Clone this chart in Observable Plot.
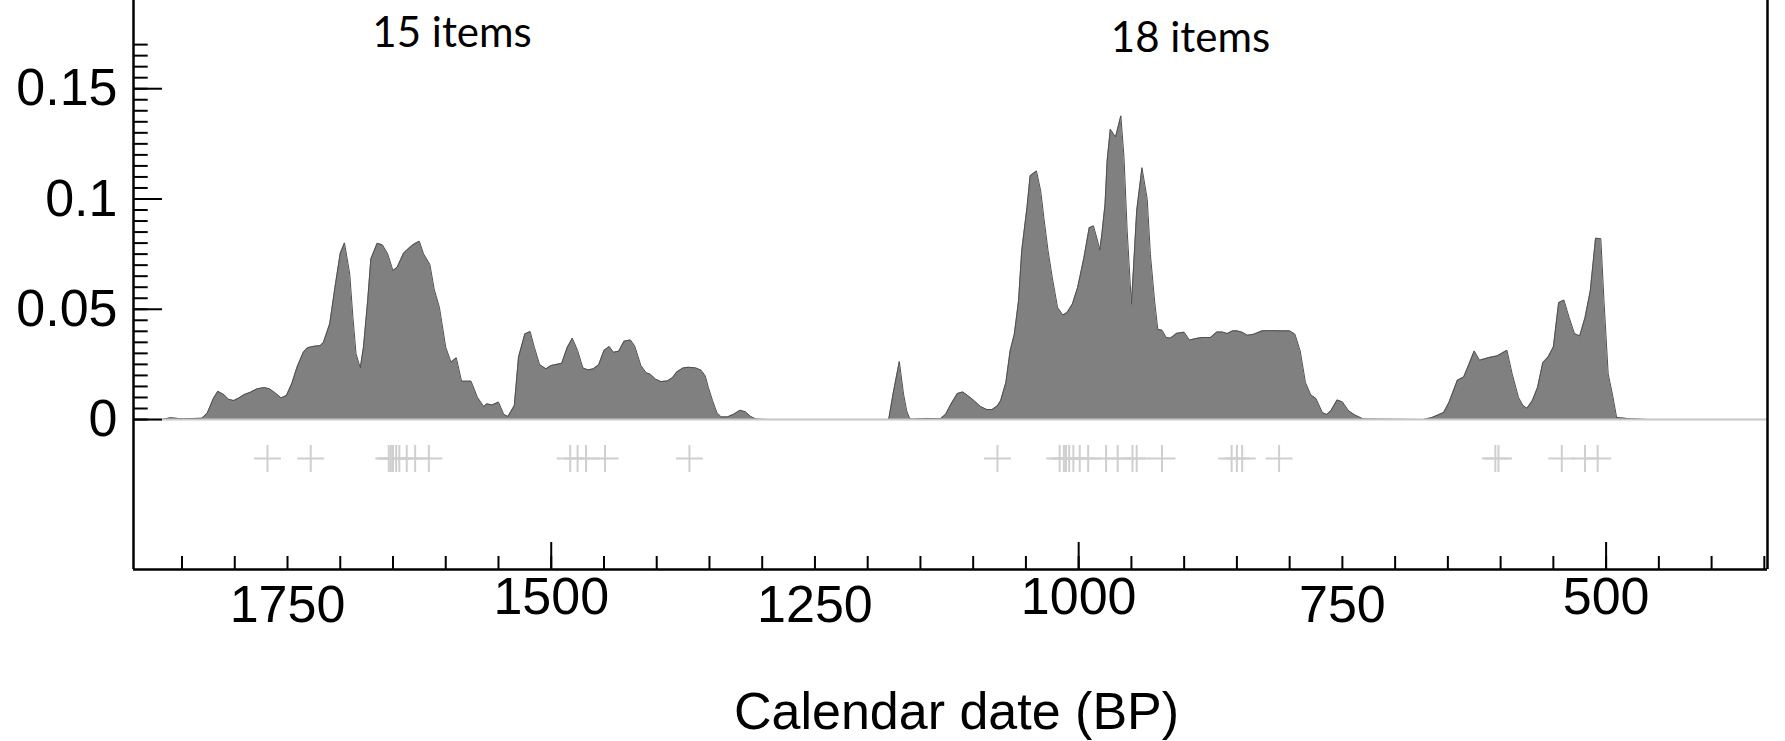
<!DOCTYPE html>
<html>
<head>
<meta charset="utf-8">
<script src="https://cdn.jsdelivr.net/npm/d3@7"></script>
<script src="https://cdn.jsdelivr.net/npm/@observablehq/plot@0.6"></script>
<style>
  html, body { margin: 0; padding: 0; background: #ffffff; }
  #chart svg { display: block; }
</style>
</head>
<body>
<div id="chart"></div>
<script>
// ---- Data ----
// Summed probability curve: calendar date (BP) and probability density
const years = [1896, 1869, 1861, 1850, 1831, 1826, 1820, 1816, 1810, 1806, 1801, 1796, 1791, 1785, 1779, 1772, 1767, 1762, 1756, 1751,
  1746, 1741, 1735, 1731, 1725, 1719, 1716, 1710, 1705, 1700, 1696, 1691, 1688, 1685, 1681, 1678, 1674, 1671, 1665, 1660,
  1655, 1650, 1646, 1640, 1634, 1630, 1625, 1621, 1615, 1611, 1606, 1600, 1595, 1590, 1585, 1576, 1570, 1564, 1561, 1556,
  1550, 1545, 1541, 1535, 1531, 1525, 1520, 1516, 1511, 1505, 1500, 1490, 1485, 1480, 1475, 1470, 1465, 1460, 1455, 1450,
  1445, 1441, 1436, 1431, 1425, 1421, 1415, 1410, 1406, 1401, 1396, 1390, 1385, 1381, 1375, 1370, 1363, 1358, 1354, 1351,
  1347, 1343, 1339, 1333, 1327, 1321, 1316, 1311, 1306, 1295, 1181, 1180, 1176, 1170, 1166, 1163, 1160, 1156, 1144, 1131,
  1126, 1121, 1115, 1110, 1106, 1099, 1093, 1087, 1082, 1077, 1074, 1069, 1065, 1061, 1057, 1054, 1049, 1046, 1040, 1036,
  1033, 1029, 1025, 1020, 1015, 1011, 1006, 1001, 995, 990, 986, 982, 980, 978, 975, 973, 970, 965, 960, 957,
  954, 950, 948, 945, 940, 935, 932, 928, 925, 921, 917, 913, 907, 900, 895, 889, 883, 875, 869, 864,
  859, 854, 850, 845, 840, 834, 826, 818, 809, 800, 795, 790, 785, 780, 775, 769, 765, 761, 755, 750,
  744, 738, 730, 673, 665, 654, 649, 641, 635, 630, 625, 620, 611, 603, 594, 589, 583, 579, 575, 570,
  565, 560, 555, 550, 545, 540, 535, 530, 525, 520, 515, 510, 505, 502, 498, 494, 490, 477, 460, 347];
const density = [0, 0, 0.0008, 0.0003, 0.0006, 0.0030, 0.0098, 0.0128, 0.0112, 0.0092, 0.0086, 0.0098, 0.0113, 0.0124, 0.0139, 0.0145, 0.0139, 0.0122, 0.0098, 0.0109,
  0.0162, 0.0237, 0.0305, 0.0326, 0.0332, 0.0335, 0.0349, 0.0434, 0.0600, 0.0754, 0.0801, 0.0660, 0.0464, 0.0298, 0.0234, 0.0328, 0.0539, 0.0728, 0.0799, 0.0792,
  0.0751, 0.0675, 0.0691, 0.0754, 0.0781, 0.0796, 0.0808, 0.0751, 0.0703, 0.0592, 0.0509, 0.0328, 0.0260, 0.0280, 0.0174, 0.0174, 0.0101, 0.0059, 0.0071, 0.0066,
  0.0079, 0.0023, 0.0014, 0.0063, 0.0283, 0.0388, 0.0399, 0.0328, 0.0249, 0.0230, 0.0245, 0.0255, 0.0325, 0.0369, 0.0313, 0.0234, 0.0225, 0.0230, 0.0248, 0.0313,
  0.0331, 0.0305, 0.0310, 0.0355, 0.0361, 0.0335, 0.0245, 0.0212, 0.0205, 0.0183, 0.0172, 0.0175, 0.0190, 0.0216, 0.0234, 0.0237, 0.0234, 0.0224, 0.0198, 0.0145,
  0.0085, 0.0032, 0.0012, 0.0012, 0.0024, 0.0042, 0.0035, 0.0014, 0.0002, 0, 0, 0.0002, 0.0115, 0.0263, 0.0115, 0.0039, 0.0002, 0.0002, 0.0005, 0.0003,
  0.0024, 0.0070, 0.0118, 0.0125, 0.0112, 0.0085, 0.0059, 0.0045, 0.0045, 0.0062, 0.0085, 0.0168, 0.0311, 0.0387, 0.0538, 0.0765, 0.0961, 0.1105, 0.1127, 0.1037,
  0.0916, 0.0765, 0.0644, 0.0508, 0.0474, 0.0485, 0.0523, 0.0598, 0.0734, 0.0870, 0.0878, 0.0810, 0.0768, 0.0840, 0.0976, 0.1173, 0.1316, 0.1281, 0.1377, 0.1188,
  0.0855, 0.0523, 0.0689, 0.0946, 0.1142, 0.0999, 0.0749, 0.0538, 0.0409, 0.0405, 0.0372, 0.0369, 0.0391, 0.0396, 0.0360, 0.0367, 0.0372, 0.0372, 0.0397, 0.0397,
  0.0390, 0.0402, 0.0402, 0.0396, 0.0382, 0.0387, 0.0402, 0.0403, 0.0402, 0.0402, 0.0387, 0.0311, 0.0168, 0.0112, 0.0095, 0.0032, 0.0023, 0.0039, 0.0089, 0.0080,
  0.0039, 0.0020, 0.0002, 0, 0.0009, 0.0032, 0.0077, 0.0178, 0.0193, 0.0251, 0.0311, 0.0269, 0.0281, 0.0289, 0.0314, 0.0206, 0.0100, 0.0065, 0.0051, 0.0085,
  0.0145, 0.0258, 0.0284, 0.0329, 0.0530, 0.0542, 0.0462, 0.0390, 0.0379, 0.0462, 0.0583, 0.0822, 0.0820, 0.0538, 0.0206, 0.0115, 0.0009, 0.0003, 0, 0];

// Individual dated items (crosses)
const itemDates = [1769, 1728, 1654, 1652, 1650, 1647, 1644, 1637, 1629, 1616, 1482, 1475, 1467, 1449, 1369,
  1077, 1018, 1014, 1012, 1009, 1005, 999, 991, 974, 963, 949, 945, 921, 855, 850, 845, 810, 605, 602, 542, 520, 508];
const crossLevel = -0.0177;

// Group annotations
const groupLabels = ["15 items", "18 items"];
const groupLabelYears = [1594, 894];
const groupLabelLevels = [0.1752, 0.1727];

// Axes
const xDomain = [1896, 347];
const yDomain = [-0.068, 0.19];
const xMajorTicks = [1500, 1000, 500];
const xMinorTicks = [1850, 1800, 1750, 1700, 1650, 1600, 1550, 1500, 1450, 1400, 1350, 1300, 1250, 1200, 1150, 1100, 1050, 1000,
  950, 900, 850, 800, 750, 700, 650, 600, 550, 500, 450, 400, 350];
const xLabelsHigh = [1500, 1000, 500];
const xLabelsLow = [1750, 1250, 750];
const yMajorTicks = [0, 0.05, 0.1, 0.15];
const yMinorTicks = [0, 0.005, 0.01, 0.015, 0.02, 0.025, 0.03, 0.035, 0.04, 0.045, 0.05, 0.055, 0.06, 0.065, 0.07, 0.075, 0.08, 0.085,
  0.09, 0.095, 0.1, 0.105, 0.11, 0.115, 0.12, 0.125, 0.13, 0.135, 0.14, 0.145, 0.15, 0.155, 0.16, 0.165, 0.17];
const xTitle = ["Calendar date (BP)"];

// ---- Chart ----
const table = years.map((yr, i) => ({year: yr, p: density[i]}));
const sansFont = "'Liberation Sans', Arial, Helvetica, sans-serif";

const crossSymbol = {
  draw(context, size) {
    const r = Math.sqrt(size / Math.PI);
    context.moveTo(-r, 0); context.lineTo(r, 0);
    context.moveTo(0, -r); context.lineTo(0, r);
  }
};

const chart = Plot.plot({
  width: 1785,
  height: 741,
  marginLeft: 133,
  marginRight: 18,
  marginTop: 0,
  marginBottom: 172,
  style: {fontFamily: sansFont, background: "#ffffff", color: "#000000"},
  x: {domain: xDomain, label: null},
  y: {domain: yDomain, label: null},
  marks: [
    Plot.areaY(table, {x: "year", y: "p", fill: "#808080"}),
    Plot.lineY(table, {x: "year", y: "p", stroke: "#4f4f4f", strokeWidth: 1}),
    Plot.ruleY([0], {stroke: "#c8c8c8", strokeWidth: 2}),
    Plot.dot(itemDates, {x: d => d, y: () => crossLevel, symbol: crossSymbol, r: 13.5, stroke: "#cfcfcf", strokeWidth: 2, fill: "none"}),
    Plot.text(groupLabels, {x: (d, i) => groupLabelYears[i], y: (d, i) => groupLabelLevels[i], text: d => d,
      fontFamily: "Lato, 'Open Sans', sans-serif", fontSize: 42, fill: "#000000"}),
    // y axis
    Plot.axisY(yMinorTicks, {anchor: "left", tickSize: -14.7, strokeWidth: 2, stroke: "#000000", fill: "none", label: null}),
    Plot.axisY(yMajorTicks, {anchor: "left", tickSize: -29, strokeWidth: 2, stroke: "#000000", fill: "none", label: null}),
    Plot.axisY(yMajorTicks, {anchor: "left", tickSize: 0, tickPadding: 16, tickFormat: "~g", fontSize: 52, fontFamily: sansFont, fill: "#000000", label: null}),
    // x axis
    Plot.axisX(xMinorTicks, {anchor: "bottom", tickSize: -13, strokeWidth: 2, stroke: "#000000", fill: "none", label: null}),
    Plot.axisX(xMajorTicks, {anchor: "bottom", tickSize: -27, strokeWidth: 2, stroke: "#000000", fill: "none", label: null}),
    Plot.axisX(xLabelsHigh, {anchor: "bottom", tickSize: 0, tickPadding: 8, tickFormat: "d", fontSize: 52, fontFamily: sansFont, fill: "#000000", label: null}),
    Plot.axisX(xLabelsLow, {anchor: "bottom", tickSize: 0, tickPadding: 16, tickFormat: "d", fontSize: 52, fontFamily: sansFont, fill: "#000000", label: null}),
    Plot.text(xTitle, {frameAnchor: "bottom", dy: 143, dx: 6, text: d => d, lineAnchor: "middle", fontSize: 52, fontFamily: sansFont, fill: "#000000"}),
    // frame lines (left, right, bottom)
    Plot.ruleX([xDomain[0], xDomain[1]], {stroke: "#000000", strokeWidth: 2.5}),
    Plot.ruleY([yDomain[0]], {stroke: "#000000", strokeWidth: 2.5})
  ]
});
document.getElementById("chart").appendChild(chart);
</script>
</body>
</html>
